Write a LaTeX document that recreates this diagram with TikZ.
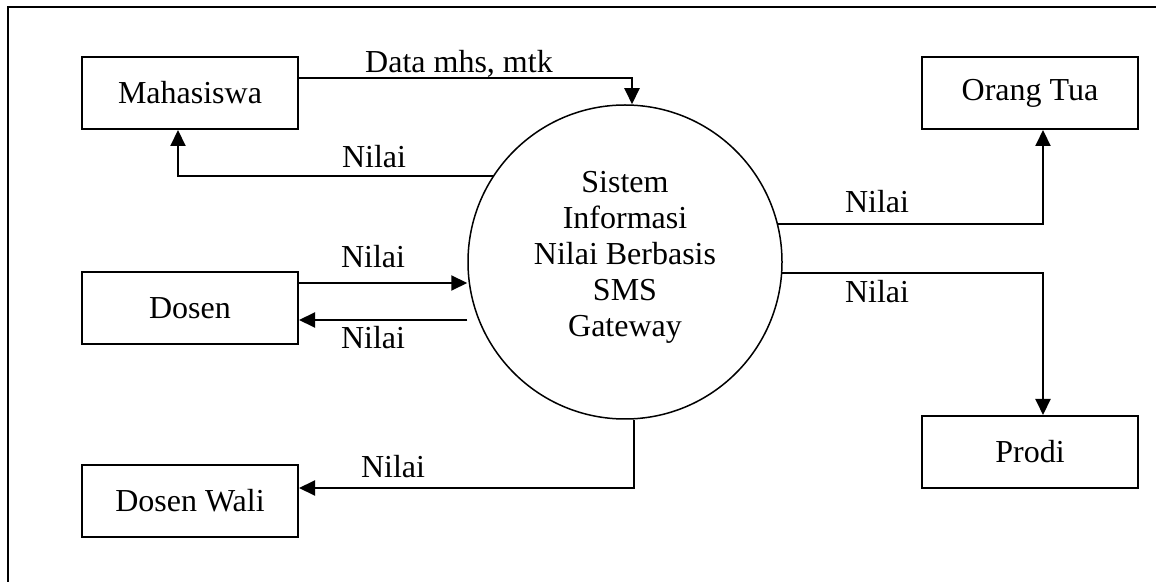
\documentclass[tikz,border=0pt]{standalone}
\usepackage{fontspec}
\setmainfont{Liberation Serif}
\usepackage{tikz}
\usetikzlibrary{
  arrows.meta}
\tikzset{
  entity/.style={draw, line width=1pt, minimum width=108pt, minimum height=36pt, inner sep=0pt},
  flow/.style={line width=1pt, -{Triangle[length=8pt,width=7.5pt]}},
  lbl/.style={anchor=base, inner sep=0pt}}

\begin{document}
\begin{tikzpicture}[x=0.5pt,y=-0.5pt,font=\fontsize{16}{18}\selectfont]
  \useasboundingbox (0,0) rectangle (1156,582);
  \draw[line width=1pt] (8,582) -- (8,7) -- (1156,7);

  \node[entity] (mhs) at (190,93) {Mahasiswa};
  \node[entity] (dsn) at (190,308.5) {Dosen};
  \node[entity] (wali) at (190,501) {Dosen Wali};
  \node[entity] (ortu) at (1030,93) {Orang Tua};
  \node[entity] (prodi) at (1030,452) {Prodi};

  \node[circle, draw, line width=0.75pt, minimum size=157pt, inner sep=0pt] (sis) at (625,262) {};
  \node[align=center] (sistxt) at (625,257) {Sistem\\Informasi\\Nilai Berbasis\\SMS\\Gateway};

  \draw[flow] ([yshift=7.5pt]mhs.east) -| ([xshift=3.5pt]sis.north);
  \node[lbl] (ldata) at (459,73) {Data mhs, mtk};
  \draw[flow] (sis.147) -| ([xshift=-6pt]mhs.south);
  \node[lbl] (lmhs) at (374,168) {Nilai};

  \coordinate (dsnin) at ([yshift=12.75pt]dsn.east);
  \coordinate (dsnout) at ([yshift=-5.75pt]dsn.east);
  \draw[flow] (dsnin) -- (sis.west |- dsnin);
  \node[lbl] (ldsn1) at (373,268) {Nilai};
  \draw[flow] (sis.west |- dsnout) -- (dsnout);
  \node[lbl] (ldsn2) at (373,349) {Nilai};

  \draw[flow] (sis.14) -| ([xshift=6.5pt]ortu.south);
  \node[lbl] (lortu) at (877,213) {Nilai};
  \draw[flow] (sis.-4) -| ([xshift=6.5pt]prodi.north);
  \node[lbl] (lprodi) at (877,303) {Nilai};

  \draw[flow] ([xshift=4.5pt]sis.south) |- ([yshift=6.5pt]wali.east);
  \node[lbl] (lwali) at (393,477) {Nilai};
\end{tikzpicture}
\end{document}
